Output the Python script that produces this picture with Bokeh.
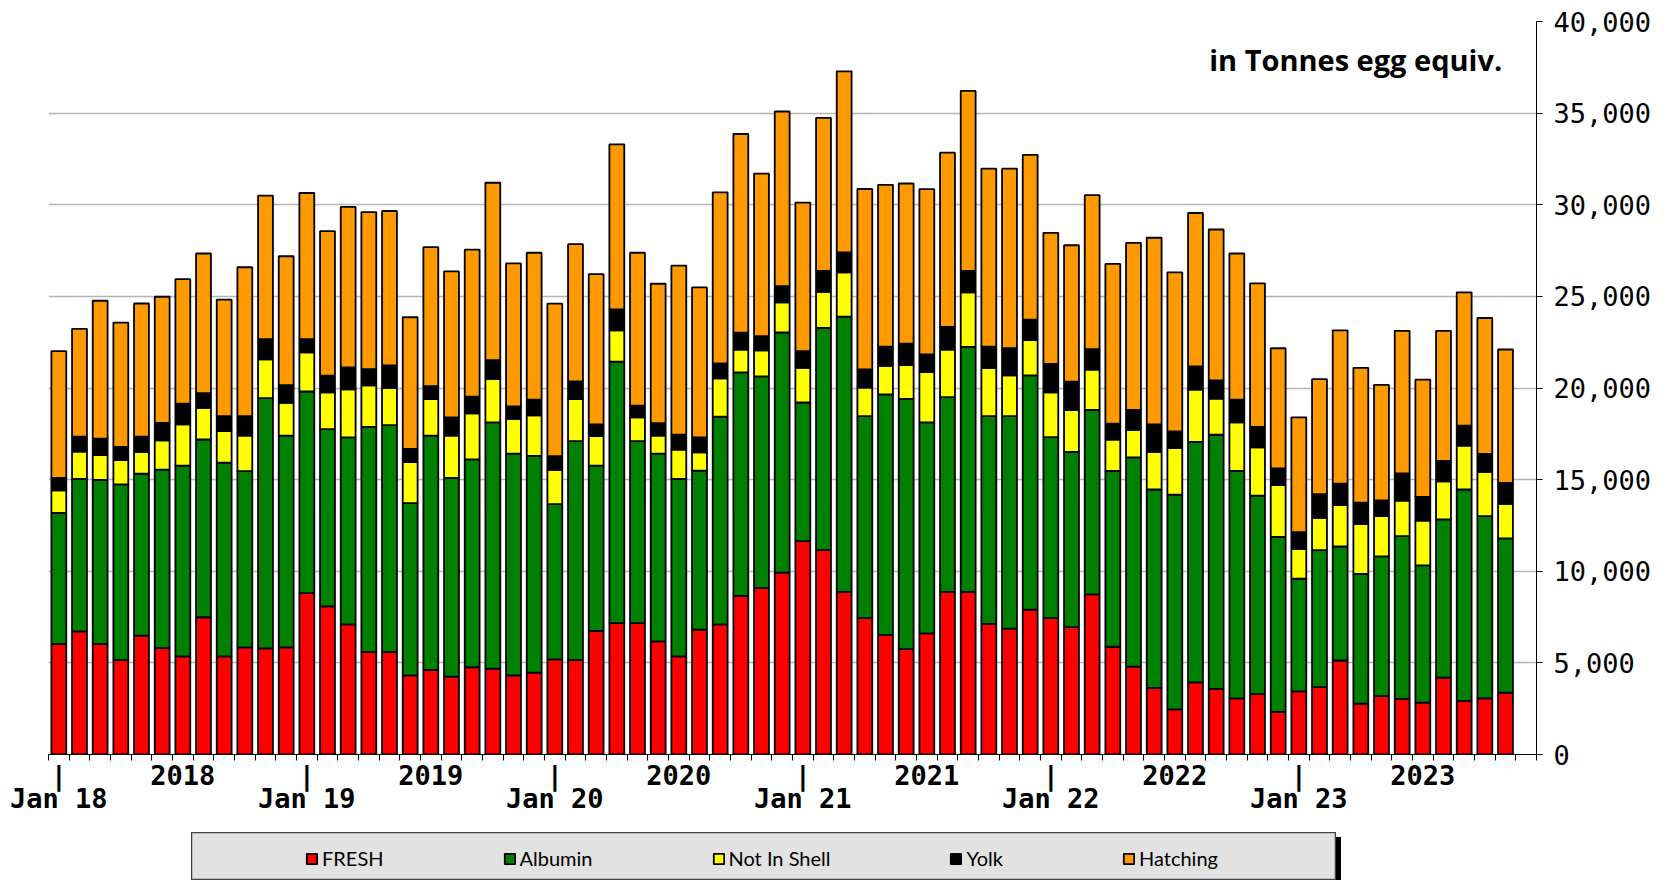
from bokeh.plotting import figure
from bokeh.models import (FixedTicker, NumeralTickFormatter, LinearAxis, Legend,
                          LegendItem, Label, Range1d, ColumnDataSource, Spacer)
from bokeh.layouts import column, row
from bokeh.embed import file_html
from bokeh.resources import INLINE

# ---------------- data (tonnes egg equivalent, monthly Jan 2018 - Nov 2023) -------------
month_names = ["Jan", "Feb", "Mar", "Apr", "May", "Jun",
               "Jul", "Aug", "Sep", "Oct", "Nov", "Dec"]
years = ["18", "19", "20", "21", "22", "23"]
months = [f"{m} {y}" for y in years for m in month_names][:71]

fresh = [6020, 6720, 6020, 5150, 6490, 5810, 5360, 7490, 5360, 5850, 5790, 5850,
         8810, 8080, 7100, 5590, 5590, 4320, 4620, 4250, 4760, 4680, 4320, 4470,
         5190, 5150, 6740, 7170, 7170, 6170, 5360, 6810, 7100, 8660, 9080, 9930,
         11640, 11150, 8870, 7440, 6530, 5750, 6610, 8870, 8870, 7130, 6870, 7910,
         7440, 6950, 8740, 5880, 4800, 3630, 2460, 3940, 3580, 3060, 3290, 2330,
         3450, 3680, 5130, 2770, 3190, 3030, 2830, 4200, 2930, 3060, 3370]
albumin = [7170, 8320, 8960, 9590, 8830, 9740, 10400, 9700, 10570, 9610, 13660, 11550,
           11000, 9680, 10210, 12290, 12380, 9400, 12780, 10850, 11340, 13440, 12100, 11830,
           8470, 11950, 9020, 14270, 9930, 10250, 9680, 8680, 11340, 12190, 11550, 13100,
           7570, 12130, 15030, 11020, 13120, 13660, 11510, 10630, 13370, 11330, 11590, 12780,
           9880, 9560, 10060, 9590, 11410, 10830, 11720, 13120, 13870, 12420, 10830, 9540,
           6140, 7470, 6220, 7080, 7620, 8890, 7490, 8630, 11530, 9950, 8420]
not_in_shell = [1230, 1490, 1360, 1320, 1190, 1600, 2260, 1720, 1720, 1940, 2110, 1790,
                2130, 2000, 2620, 2260, 2040, 2230, 2000, 2300, 2510, 2380, 1890, 2210,
                1870, 2300, 1620, 1700, 1300, 980, 1600, 1000, 2090, 1250, 1430, 1640,
                1890, 1970, 2410, 1560, 1560, 1840, 2750, 2590, 2980, 2620, 2230, 1920,
                2440, 2280, 2200, 1710, 1500, 2050, 2540, 2850, 1970, 2640, 2640, 2830,
                1630, 1760, 2260, 2720, 2200, 1940, 2440, 2070, 2390, 2410, 1890]
yolk = [680, 810, 890, 720, 830, 940, 1130, 810, 810, 1060, 1110, 960,
        720, 910, 1190, 890, 1230, 720, 700, 1000, 920, 1020, 680, 850,
        750, 960, 640, 1150, 640, 680, 810, 810, 810, 920, 770, 890,
        910, 1140, 1090, 990, 1040, 1170, 960, 1240, 1170, 1170, 1480, 1120,
        1560, 1560, 1120, 880, 1090, 1500, 910, 1270, 990, 1240, 1120, 910,
        910, 1300, 1170, 1170, 860, 1480, 1300, 1120, 1090, 990, 1140]
hatching = [6910, 5890, 7530, 6790, 7270, 6890, 6790, 7620, 6360, 8130, 7830, 7040,
            7980, 7890, 8760, 8570, 8420, 7190, 7590, 7960, 8020, 9680, 7810, 8020,
            8320, 7490, 8190, 9010, 8340, 7610, 9230, 8190, 9340, 10840, 8870, 9530,
            8110, 8350, 9880, 9850, 8840, 8740, 9020, 9510, 9820, 9720, 9800, 8990,
            7150, 7440, 8400, 8710, 9120, 10190, 8680, 8370, 8240, 7980, 7830, 6560,
            6270, 6270, 8370, 7360, 6300, 7780, 6400, 7100, 7280, 7410, 7280]

series = ["FRESH", "Albumin", "Not In Shell", "Yolk", "Hatching"]
colors = ["#FF0000", "#008000", "#FFFF00", "#000000", "#FF9900"]
jan_labels = ["Jan 18", "Jan 19", "Jan 20", "Jan 21", "Jan 22", "Jan 23"]
year_labels = ["2018", "2019", "2020", "2021", "2022", "2023"]
y_ticks = [0, 5000, 10000, 15000, 20000, 25000, 30000, 35000, 40000]
n_slots = 72  # Jan 18 .. Dec 23 on the axis

# ---------------- main chart ----------------
x = list(range(len(months)))
source = ColumnDataSource(dict(x=x, month=months, FRESH=fresh, Albumin=albumin,
                               **{"Not In Shell": not_in_shell},
                               Yolk=yolk, Hatching=hatching))

p = figure(width=1660, height=832, output_backend="svg", toolbar_location=None,
           x_range=Range1d(-0.5, n_slots - 0.5), y_range=Range1d(0, 40000),
           y_axis_location="right", x_axis_location=None,
           min_border_left=48, min_border_right=124, min_border_top=21,
           min_border_bottom=78)
p.outline_line_color = None
p.background_fill_color = "white"
p.border_fill_color = "white"

renderers = p.vbar_stack(series, x="x", width=0.72, source=source,
                         fill_color=colors, line_color="black", line_width=1.8)

# grid
p.xgrid.visible = False
p.ygrid.ticker = FixedTicker(ticks=y_ticks)
p.ygrid.grid_line_color = "#b4b4b4"
p.ygrid.grid_line_width = 1.5

# right y axis
yax = p.yaxis[0]
yax.ticker = FixedTicker(ticks=y_ticks)
yax.formatter = NumeralTickFormatter(format="0,0")
yax.axis_line_color = "black"
yax.major_tick_line_color = "black"
yax.major_tick_out = 6
yax.major_tick_in = 0
yax.minor_tick_line_color = None
yax.major_label_standoff = 11
yax.major_label_text_font = "DejaVu Sans Mono"
yax.major_label_text_font_size = "27px"
yax.major_label_text_color = "black"

# bottom axes: slot boundary ticks + "|" and year labels, then "Jan yy" labels
jan_pos = [i for i, m in enumerate(months) if m.startswith("Jan")]
year_pos = [i + 6 for i in jan_pos]
overrides1 = {j: "|" for j in jan_pos}
overrides1.update({yp: yl for yp, yl in zip(year_pos, year_labels)})
ax1 = LinearAxis(ticker=FixedTicker(ticks=jan_pos + year_pos,
                                    minor_ticks=[i - 0.5 for i in range(n_slots + 1)]),
                 major_label_overrides=overrides1)
ax1.axis_line_color = "black"
ax1.axis_line_width = 1
ax1.major_tick_line_color = None
ax1.major_tick_out = 6
ax1.major_tick_in = 0
ax1.minor_tick_line_color = "black"
ax1.minor_tick_out = 6
ax1.minor_tick_in = 0
ax1.major_label_standoff = -1
ax1.major_label_text_font = "DejaVu Sans Mono"
ax1.major_label_text_font_style = "bold"
ax1.major_label_text_font_size = "27px"
ax1.major_label_text_color = "black"
p.add_layout(ax1, "below")

ax2 = LinearAxis(ticker=FixedTicker(ticks=jan_pos, minor_ticks=[]),
                 major_label_overrides={j: l for j, l in zip(jan_pos, jan_labels)})
ax2.axis_line_color = None
ax2.major_tick_line_color = None
ax2.minor_tick_line_color = None
ax2.major_tick_out = 0
ax2.major_tick_in = 0
ax2.major_label_standoff = -11
ax2.major_label_text_font = "DejaVu Sans Mono"
ax2.major_label_text_font_style = "bold"
ax2.major_label_text_font_size = "27px"
ax2.major_label_text_color = "black"
p.add_layout(ax2, "below")

# unit note
note = Label(x=69.84, y=37900, text="in Tonnes egg equiv.", text_align="right",
             text_baseline="alphabetic", text_font="Open Sans", text_font_style="bold",
             text_font_size="29px", text_color="black")
p.add_layout(note)

# ---------------- legend strip (its own small figure acts as the legend box) ----------------
lg = figure(width=1145, height=48, output_backend="svg", toolbar_location=None,
            x_range=Range1d(0, 1), y_range=Range1d(0, 1),
            x_axis_location=None, y_axis_location=None,
            min_border_left=0, min_border_right=0, min_border_top=0, min_border_bottom=0)
lg.grid.visible = False
lg.background_fill_color = "#e2e2e2"
lg.border_fill_color = "#e2e2e2"
lg.outline_line_color = "#404040"
lg.outline_line_width = 1.5
nan = float("nan")
swatches = [lg.vbar(x=[nan], top=[nan], width=1, fill_color=c, line_color="black",
                    line_width=1.8) for c in colors]
legend = Legend(items=[LegendItem(label=s, renderers=[r]) for s, r in zip(series, swatches)],
                orientation="horizontal", location=(114, 10),
                spacing=119, padding=4, margin=0, glyph_width=13, glyph_height=13,
                label_standoff=4, label_text_font="Lato", label_text_font_size="20px",
                label_text_color="black",
                background_fill_alpha=0, border_line_color=None)
lg.add_layout(legend, "center")

shadow = Spacer(width=5, height=43, margin=(5, 0, 0, 0),
                styles={"background-color": "#000000"})
layout = column(p, row(Spacer(width=191, height=48), lg, shadow))
open("out.html", "w").write(file_html(layout, INLINE))
